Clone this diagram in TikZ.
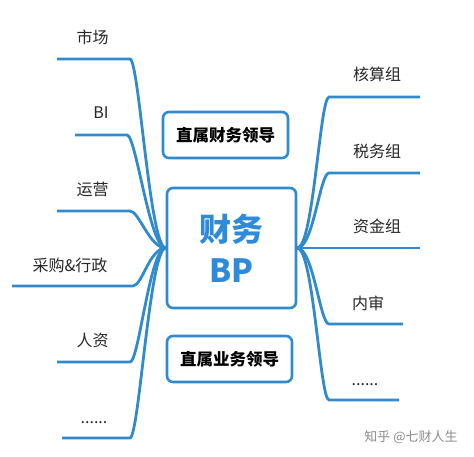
\documentclass[tikz,border=0pt]{standalone}
\usepackage{fontspec}
\usepackage{tikz}
\newfontfamily\cjk{Noto Sans CJK SC}
\definecolor{bpblue}{RGB}{46,138,218}
\definecolor{lineblue}{RGB}{48,138,206}
\tikzset{
  branch/.style={draw=lineblue, line width=2.8pt},
  leaf/.style={font=\cjk\fontsize{16pt}{18pt}\selectfont, text=black!85, inner sep=0pt},
  lead/.style={draw=lineblue, line width=2.6pt, rounded corners=6pt, inner sep=0pt,
    minimum height=46pt, font=\cjk\bfseries\fontsize{16.5pt}{18pt}\selectfont},
}

\begin{document}
\begin{tikzpicture}[x=1pt,y=-1pt]
  \useasboundingbox (0,0) rectangle (474,457);
  % centre
  \node[draw=lineblue, line width=2.6pt, rounded corners=6pt, minimum width=129pt,
    minimum height=120pt, align=center, text=bpblue,
    font=\cjk\bfseries\fontsize{32pt}{41pt}\selectfont] (bp) at (231.5,248) {财务\\BP};
  \node[lead, minimum width=125pt] (cwld) at (225.5,135) {直属财务领导};
  \node[lead, minimum width=125pt] (ywld) at (229.5,359) {直属业务领导};

  % left side
  \coordinate (l1a) at (57,59);  \coordinate (l1b) at (130,59);
  \coordinate (l2a) at (75,135); \coordinate (l2b) at (127,135);
  \coordinate (l3a) at (57,211); \coordinate (l3b) at (130,211);
  \coordinate (l4a) at (12,286); \coordinate (l4b) at (133,286);
  \coordinate (l5a) at (57,362); \coordinate (l5b) at (130,362);
  \coordinate (l6a) at (62,438); \coordinate (l6b) at (130,438);
  \node[leaf] (shichang) at (92.5,37) {市场};
  \node[leaf] (bi) at (101,113) {BI};
  \node[leaf] (yunying) at (92.5,189) {运营};
  \node[leaf] (caigou) at (70,265) {采购\&行政};
  \node[leaf] (renzi) at (92.5,340) {人资};
  \node[leaf, anchor=base] (etcl) at (94,423) {......};
  \draw[branch] (l1a) -- (l1b) .. controls +(9,0) and +(-16,0) .. (bp.west);
  \draw[branch] (l2a) -- (l2b) .. controls +(9,0) and +(-16,0) .. (bp.west);
  \draw[branch] (l3a) -- (l3b) .. controls +(9,0) and +(-16,0) .. (bp.west);
  \draw[branch] (l4a) -- (l4b) .. controls +(9,0) and +(-16,0) .. (bp.west);
  \draw[branch] (l5a) -- (l5b) .. controls +(9,0) and +(-16,0) .. (bp.west);
  \draw[branch] (l6a) -- (l6b) .. controls +(9,0) and +(-16,0) .. (bp.west);

  % right side
  \coordinate (r1a) at (329,97);  \coordinate (r1b) at (420,97);
  \coordinate (r2a) at (329,173); \coordinate (r2b) at (420,173);
  \coordinate (r3b) at (420,248);
  \coordinate (r4a) at (329,324); \coordinate (r4b) at (403,324);
  \coordinate (r5a) at (329,400); \coordinate (r5b) at (399,400);
  \node[leaf] (hesuan) at (377,74) {核算组};
  \node[leaf] (shuiwu) at (377,151) {税务组};
  \node[leaf] (zijin) at (377,226) {资金组};
  \node[leaf] (neishen) at (368,303) {内审};
  \node[leaf, anchor=base] (etcr) at (365,385) {......};
  \draw[branch] (bp.east) .. controls +(16,0) and +(-9,0) .. (r1a) -- (r1b);
  \draw[branch] (bp.east) .. controls +(16,0) and +(-9,0) .. (r2a) -- (r2b);
  \draw[branch] (bp.east) -- (r3b);
  \draw[branch] (bp.east) .. controls +(16,0) and +(-9,0) .. (r4a) -- (r4b);
  \draw[branch] (bp.east) .. controls +(16,0) and +(-9,0) .. (r5a) -- (r5b);

  \node[font=\cjk\fontsize{13pt}{15pt}\selectfont, text=black!45, inner sep=0pt] (zhihu) at (411,437) {知乎 @七财人生};
\end{tikzpicture}
\end{document}
